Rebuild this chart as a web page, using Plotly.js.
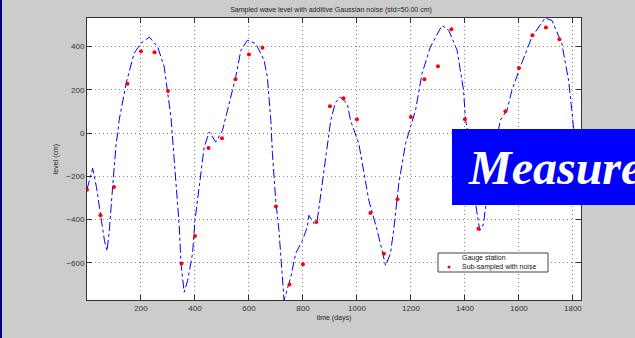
<!DOCTYPE html>
<html>
<head>
<meta charset="utf-8">
<script src="https://cdn.plot.ly/plotly-3.0.1.min.js"></script>
<style>html,body{margin:0;padding:0;background:#cccccc;}#chart{width:635px;height:338px;}</style>
</head>
<body>
<div id="chart"></div>
<script>
// Gauge station (continuous record)
const gaugeDays = [0, 7, 21, 35, 52, 65, 74, 82, 95, 108, 114, 119, 145, 174, 200, 231, 262, 286, 311, 323, 329, 342, 348, 360, 373, 391, 400, 422, 434, 453, 477, 502, 520, 551, 570, 594, 625, 656, 668, 681, 687, 699, 711, 718, 730, 755, 773, 798, 816, 822, 841, 853, 870, 884, 903, 920, 939, 964, 976, 1007, 1032, 1044, 1075, 1094, 1106, 1124, 1136, 1155, 1180, 1217, 1241, 1272, 1315, 1340, 1371, 1395, 1402, 1408, 1425, 1440, 1455, 1462, 1469, 1475, 1500, 1531, 1556, 1574, 1605, 1648, 1697, 1722, 1759, 1784, 1796, 1802, 1815, 1826];
const gaugeLevel = [-260, -230, -163, -250, -404, -500, -545, -460, -249, -48, 0, 59, 229, 367, 415, 443, 397, 305, 74, -126, -233, -434, -602, -735, -680, -556, -403, -186, -65, 5, -42, 12, 105, 259, 382, 428, 413, 336, 259, 59, -95, -311, -449, -573, -771, -665, -556, -496, -434, -380, -418, -403, -250, -100, 59, 140, 166, 136, 59, -49, -234, -311, -449, -557, -611, -557, -449, -234, -49, 105, 274, 397, 497, 474, 382, 197, 59, 28, -150, -330, -450, -440, -419, -357, -150, 59, 105, 197, 305, 443, 531, 520, 413, 243, 105, 28, -60, -120];

// Sub-sampled with noise (every 50 days)
const sampleDays = [0, 50, 100, 150, 200, 250, 300, 350, 400, 450, 500, 550, 600, 650, 700, 750, 800, 850, 900, 950, 1000, 1050, 1100, 1150, 1200, 1250, 1300, 1350, 1400, 1450, 1500, 1550, 1600, 1650, 1700, 1750, 1800];
const sampleLevel = [-262, -380, -249, 228, 377, 373, 194, -603, -476, -69, -24, 248, 362, 394, -339, -699, -606, -411, 123, 160, 63, -369, -557, -306, 74, 248, 308, 479, 63, -442, -180, 100, 300, 451, 487, 433, -20];

const xTicks = [200, 400, 600, 800, 1000, 1200, 1400, 1600, 1800];
const yTicks = [-600, -400, -200, 0, 200, 400];
const legendNames = ['Gauge station', 'Sub-sampled with noise'];

const traces = [
  {x: gaugeDays, y: gaugeLevel, type: 'scatter', mode: 'lines', name: legendNames[0],
   line: {color: '#0000ff', width: 1, dash: 'dashdot'}},
  {x: sampleDays, y: sampleLevel, type: 'scatter', mode: 'markers', name: legendNames[1],
   marker: {color: '#ff0000', size: 4, symbol: 'circle'}}
];

const axisCommon = {
  showline: true, linecolor: '#333', linewidth: 1, mirror: 'ticks',
  ticks: 'inside', ticklen: 5, tickcolor: '#333', tickwidth: 1,
  showgrid: true, gridcolor: '#8a8a8a', griddash: '1px,3px', gridwidth: 1,
  zeroline: false, tickfont: {family: 'Liberation Sans, Arial, sans-serif', size: 8, color: '#333'}
};

// paper coords helpers (plot area: x 87..581, y 18..300)
const px = v => (v - 87) / 494;
const py = v => (300 - v) / 282;

const layout = {
  width: 635, height: 338,
  margin: {l: 87, r: 54, t: 18, b: 38},
  paper_bgcolor: '#cccccc', plot_bgcolor: '#ffffff',
  font: {family: 'Liberation Sans, Arial, sans-serif', color: '#222'},
  title: {text: 'Sampled wave level with additive Gaussian noise (std=50.00 cm)',
          font: {size: 7, color: '#222'}, x: 331/635, xanchor: 'center', y: 1 - 10/338, yanchor: 'middle', yref: 'container'},
  xaxis: Object.assign({}, axisCommon, {range: [0, 1830], tickvals: xTicks,
          title: {text: 'time (days)', font: {size: 7, color: '#222'}, standoff: 3}}),
  yaxis: Object.assign({}, axisCommon, {range: [-771, 531], tickvals: yTicks,
          title: {text: 'level (cm)', font: {size: 7, color: '#222'}, standoff: 6}}),
  showlegend: false,
  shapes: [
    {type: 'rect', xref: 'paper', yref: 'paper', x0: -0.2, x1: px(2), y0: -0.2, y1: 1.2,
     fillcolor: '#000080', line: {width: 0}, layer: 'above'},
    // legend box
    {type: 'rect', xref: 'paper', yref: 'paper', x0: px(438), x1: px(548), y0: py(272), y1: py(253),
     fillcolor: '#ffffff', line: {width: 1, color: '#444'}, layer: 'above'},
    // legend marker for sub-sampled series
    {type: 'circle', xref: 'paper', yref: 'paper', x0: px(447.5), x1: px(450.5), y0: py(268.5), y1: py(265.5),
     fillcolor: '#ff0000', line: {width: 0}, layer: 'above'},
    // Measure box
    {type: 'rect', xref: 'paper', yref: 'paper', x0: px(452), x1: 1.15, y0: py(205), y1: py(129),
     fillcolor: '#0000ff', line: {width: 0}, layer: 'above'}
  ],
  annotations: [
    {text: legendNames[0], xref: 'paper', yref: 'paper', x: px(461), y: py(258), xanchor: 'left', yanchor: 'middle',
     showarrow: false, borderpad: 0, font: {size: 7, color: '#111'}},
    {text: legendNames[1], xref: 'paper', yref: 'paper', x: px(461), y: py(266.5), xanchor: 'left', yanchor: 'middle',
     showarrow: false, borderpad: 0, font: {size: 7, color: '#111'}},
    {text: '<b><i>Measure</i></b>', xref: 'paper', yref: 'paper', x: px(466), y: py(167),
     xanchor: 'left', yanchor: 'middle', showarrow: false,
     font: {family: 'Liberation Serif, Times New Roman, serif', size: 48, color: '#ffffff'}}
  ]
};

Plotly.newPlot('chart', traces, layout, {displayModeBar: false, staticPlot: true});
</script>
</body>
</html>
